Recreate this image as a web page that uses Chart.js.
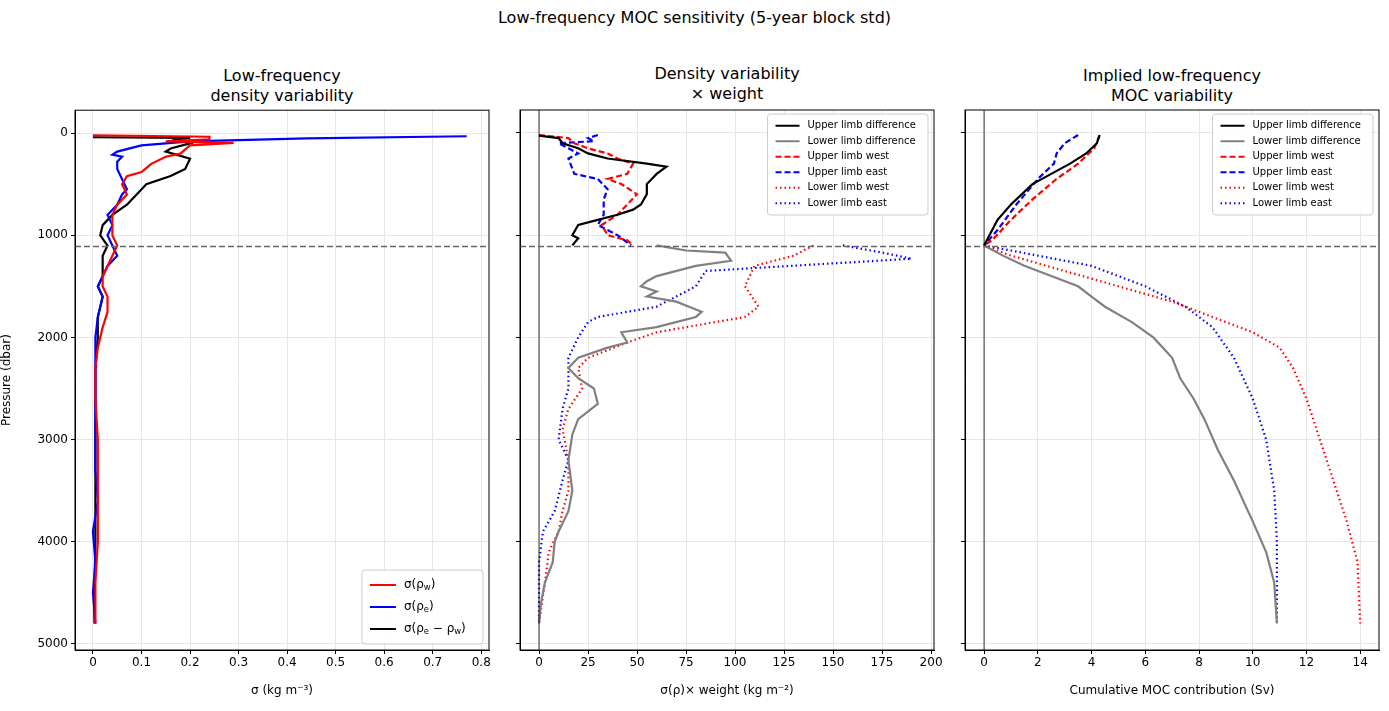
<!DOCTYPE html>
<html><head><meta charset="utf-8">
<script src="https://cdn.jsdelivr.net/npm/chart.js@4"></script>
<style>
body{margin:0;width:1389px;height:711px;background:#fff;font-family:"DejaVu Sans",sans-serif;position:relative;overflow:hidden}
canvas{position:absolute}
.t{position:absolute;text-align:center;font-size:16px;line-height:20px;color:#000}
</style></head><body>
<div class="t" style="left:0;width:1389px;top:8px">Low-frequency MOC sensitivity (5-year block std)</div>
<div class="t" style="left:75px;width:414px;top:66px">Low-frequency<br>density variability</div>
<div class="t" style="left:520px;width:414px;top:64px">Density variability<br>× weight</div>
<div class="t" style="left:965px;width:414px;top:66px">Implied low-frequency<br>MOC variability</div>
<canvas id="c1" style="left:0;top:100px;width:500px;height:602px" width="500" height="602"></canvas>
<canvas id="c2" style="left:490px;top:100px;width:455px;height:602px" width="455" height="602"></canvas>
<canvas id="c3" style="left:935px;top:100px;width:455px;height:602px" width="455" height="602"></canvas>
<script>
// panel 1: density std profiles
const pRhoW = [20,35,60,80,95,120,200,230,300,380,420,500,600,700,800,900,1000,1100,1200,1300,1400,1500,1600,1750,1900,2100,2300,2600,3000,3500,4000,4400,4800];
const sigRhoW = [0,0.24,0.24,0.15,0.29,0.2,0.18,0.15,0.12,0.1,0.07,0.06,0.07,0.05,0.04,0.04,0.04,0.05,0.04,0.03,0.02,0.02,0.03,0.03,0.02,0.01,0.005,0.005,0.01,0.01,0.01,0.005,0.005];
const pRhoE = [30,50,80,120,180,210,230,280,350,450,550,600,700,800,900,1000,1100,1200,1300,1400,1500,1600,1800,2000,2300,2800,3300,3600,3900,4200,4500,4800];
const sigRhoE = [0.77,0.44,0.2,0.1,0.05,0.04,0.06,0.05,0.05,0.06,0.07,0.06,0.05,0.03,0.04,0.03,0.04,0.05,0.03,0.02,0.01,0.02,0.01,0.005,0.005,0.005,0.005,0.01,0,0.005,0,0.005];
const pDiff = [40,45,60,100,150,180,250,350,420,500,600,700,800,900,1000,1100,1200,1400,1500,1600,1800,2000,2300,3000,3500,4000,4500,4800];
const sigDiff = [0,0.2,0.17,0.2,0.16,0.15,0.2,0.19,0.16,0.11,0.09,0.07,0.04,0.02,0.015,0.03,0.02,0.02,0.01,0.02,0.01,0.01,0.005,0.005,0.005,0.005,0.003,0.003];

// panel 2: weighted variability
const pUpDiff = [25,50,100,150,200,250,300,330,400,500,600,700,750,800,850,900,1000,1030,1100];
const wUpDiff = [0,10,12,20,25,35,55,65,60,55,55,52,48,40,30,20,17,20,17];
const pUpWest = [20,50,100,150,200,250,300,400,450,500,600,700,800,900,1000,1050,1100];
const wUpWest = [0,15,18,25,35,40,48,45,35,42,50,45,40,32,35,45,48];
const pUpEast = [20,50,80,100,150,200,250,400,450,550,650,800,900,1000,1100];
const wUpEast = [30,25,28,10,15,20,15,18,30,35,33,33,30,40,47];
const pLoDiff = [1100,1150,1170,1250,1300,1400,1450,1500,1550,1600,1650,1750,1800,1900,1950,2050,2100,2200,2300,2400,2500,2650,2800,2950,3200,3500,3700,3900,4000,4200,4400,4600,4800];
const wLoDiff = [60,75,95,98,80,60,55,52,60,55,70,83,80,60,42,45,35,20,15,20,28,30,20,17,15,17,15,10,8,7,3,1,0];
const pLoWest = [1100,1200,1300,1500,1700,1800,1850,1950,2050,2200,2300,2500,2700,2900,3200,3500,3700,3900,4100,4400,4800];
const wLoWest = [140,130,110,105,112,105,90,60,45,25,20,22,15,12,15,15,12,10,5,3,0];
const pLoEast = [1100,1170,1230,1350,1500,1700,1800,1850,2000,2200,2500,2700,3000,3200,3400,3700,3900,4200,4800];
const wLoEast = [155,175,190,85,80,60,30,25,20,15,15,12,10,15,12,8,2,0,0];

// panel 3: cumulative MOC contribution
const pCumUpDiff = [20,100,200,300,400,500,700,850,1000,1100];
const cUpDiff = [4.3,4.2,3.8,3.2,2.5,1.8,1,0.5,0.2,0];
const pCumUpWest = [20,150,300,450,650,850,1050,1100];
const cUpWest = [4.3,4.1,3.5,2.7,1.8,1,0.3,0];
const pCumUpEast = [20,100,200,300,450,700,950,1100];
const cUpEast = [3.5,3,2.7,2.6,2,1.2,0.5,0];
const pCumLoDiff = [1100,1200,1300,1400,1500,1600,1700,1850,2000,2200,2400,2600,2800,3100,3400,3800,4100,4400,4800];
const cLoDiff = [0,0.7,1.5,2.5,3.5,4,4.5,5.5,6.3,7,7.3,7.8,8.2,8.7,9.3,10,10.5,10.8,10.9];
const pCumLoWest = [1100,1200,1350,1500,1650,1800,1950,2100,2300,2600,3000,3400,3800,4200,4800];
const cLoWest = [0,1,3,5,7,8.5,10,11,11.5,12,12.5,13,13.5,13.9,14];
const pCumLoEast = [1100,1200,1300,1500,1700,1900,2200,2600,3000,3500,4000,4800];
const cLoEast = [0,2,4,6,7.5,8.5,9.3,10,10.5,10.8,10.9,10.9];

const limbBoundary = 1110;

const pts = (xs, ps) => xs.map((x, i) => ({x: x, y: ps[i]}));
const ds = (label, xs, ps, color, dash) => ({
    label: label, data: pts(xs, ps), borderColor: color, backgroundColor: color,
    borderDash: dash || [], borderWidth: 2.2, showLine: true, pointRadius: 0, tension: 0
});
const DASH = [6, 3], DOT = [1.5, 3];

// draws frame, limb boundary, zero line and legend inside the plot
const decor = {
    id: "decor",
    afterDatasetsDraw(chart, args, opt) {
        const c = chart.ctx, a = chart.chartArea, sx = chart.scales.x, sy = chart.scales.y;
        c.save();
        c.beginPath(); c.rect(a.left, a.top, a.width, a.height); c.clip();
        if (opt.zero) {
            c.strokeStyle = "#000"; c.lineWidth = 0.8; c.setLineDash([]);
            c.beginPath(); c.moveTo(sx.getPixelForValue(0), a.top); c.lineTo(sx.getPixelForValue(0), a.bottom); c.stroke();
        }
        const yb = sy.getPixelForValue(limbBoundary);
        c.strokeStyle = "#666"; c.lineWidth = 1.5; c.setLineDash([6, 3]);
        c.beginPath(); c.moveTo(a.left, yb); c.lineTo(a.right, yb); c.stroke();
        c.restore();
        c.save();
        c.strokeStyle = "#000"; c.lineWidth = 1; c.strokeRect(a.left, a.top, a.width, a.height);
        // legend
        const L = opt.legend, n = chart.data.datasets.length;
        const fs = L.font, rowH = L.rowH;
        c.font = fs + "px 'DejaVu Sans'";
        let tw = 0;
        chart.data.datasets.forEach(d => { tw = Math.max(tw, c.measureText(d.label.replace(/_/g, "")).width); });
        const w = 12 + L.line + 8 + tw + 8, h = n * rowH + 8;
        const x0 = L.right ? a.right - 6 - w : a.left + 6;
        const y0 = L.bottom ? a.bottom - 6 - h : a.top + 4;
        c.fillStyle = "rgba(255,255,255,0.85)"; c.strokeStyle = "#ccc";
        c.beginPath(); c.roundRect(x0, y0, w, h, 3); c.fill(); c.stroke();
        chart.data.datasets.forEach((d, i) => {
            const yy = y0 + 4 + rowH * (i + 0.5);
            c.strokeStyle = d.borderColor; c.lineWidth = 2; c.setLineDash(d.borderDash);
            c.beginPath(); c.moveTo(x0 + 8, yy); c.lineTo(x0 + 8 + L.line, yy); c.stroke();
            c.fillStyle = "#000"; c.textBaseline = "middle";
            let tx = x0 + 8 + L.line + 8;
            d.label.split(/(_[a-z])/).forEach(s => {
                if (s.startsWith("_")) {
                    c.font = (fs * 0.7) + "px 'DejaVu Sans'";
                    c.fillText(s.slice(1), tx, yy + 3); tx += c.measureText(s.slice(1)).width;
                    c.font = fs + "px 'DejaVu Sans'";
                } else { c.fillText(s, tx, yy); tx += c.measureText(s).width; }
            });
        });
        c.restore();
    }
};

function panel(id, datasets, xmin, xmax, step, xtitle, showY, zero, legend, yw) {
    new Chart(document.getElementById(id), {
        type: "scatter",
        data: {datasets: datasets},
        plugins: [decor],
        options: {
            responsive: false, animation: false, devicePixelRatio: 1,
            layout: {padding: {top: 10, right: 11, left: 0, bottom: 0}},
            plugins: {legend: {display: false}, tooltip: {enabled: false}, decor: {zero: zero, legend: legend}},
            scales: {
                x: {
                    type: "linear", min: xmin, max: xmax,
                    afterBuildTicks: ax => { const t = []; for (let v = 0; v <= xmax + 1e-9; v += step) t.push({value: +v.toFixed(3)}); ax.ticks = t; },
                    afterFit: ax => { ax.height = 52; },
                    ticks: {color: "#000", font: {size: 12, family: "DejaVu Sans"}, maxRotation: 0, padding: 2, callback: v => String(v)},
                    grid: {color: "#e6e6e6", tickLength: 4, tickColor: "#000"},
                    border: {color: "#000"},
                    title: {display: true, text: xtitle, color: "#000", font: {size: 12, family: "DejaVu Sans"}, padding: {top: 4}}
                },
                y: {
                    type: "linear", reverse: true, min: -225, max: 5059,
                    afterBuildTicks: ax => { ax.ticks = [0, 1000, 2000, 3000, 4000, 5000].map(v => ({value: v})); },
                    afterFit: ax => { ax.width = yw; },
                    ticks: {display: showY, color: "#000", font: {size: 12, family: "DejaVu Sans"}, padding: 3, callback: v => String(v)},
                    grid: {color: "#e6e6e6", tickLength: 4, tickColor: "#000"},
                    border: {color: "#000"},
                    title: {display: showY, text: "Pressure (dbar)", color: "#000", font: {size: 12, family: "DejaVu Sans"}, padding: {top: 0, bottom: 0}}
                }
            }
        }
    });
}

panel("c1", [
    ds("σ(ρ_w)", sigRhoW, pRhoW, "#ff0000"),
    ds("σ(ρ_e)", sigRhoE, pRhoE, "#0000ff"),
    ds("σ(ρ_e − ρ_w)", sigDiff, pDiff, "#000000")
], -0.037, 0.816, 0.1, "σ (kg m⁻³)", true, false, {right: true, bottom: true, font: 12, rowH: 22, line: 26}, 75);

panel("c2", [
    ds("Upper limb difference", wUpDiff, pUpDiff, "#000000"),
    ds("Lower limb difference", wLoDiff, pLoDiff, "#808080"),
    ds("Upper limb west", wUpWest, pUpWest, "#ff0000", DASH),
    ds("Upper limb east", wUpEast, pUpEast, "#0000ff", DASH),
    ds("Lower limb west", wLoWest, pLoWest, "#ff0000", DOT),
    ds("Lower limb east", wLoEast, pLoEast, "#0000ff", DOT)
], -9.7, 201.5, 25, "σ(ρ)× weight (kg m⁻²)", false, true, {right: true, bottom: false, font: 10, rowH: 15.5, line: 24}, 30);

panel("c3", [
    ds("Upper limb difference", cUpDiff, pCumUpDiff, "#000000"),
    ds("Lower limb difference", cLoDiff, pCumLoDiff, "#808080"),
    ds("Upper limb west", cUpWest, pCumUpWest, "#ff0000", DASH),
    ds("Upper limb east", cUpEast, pCumUpEast, "#0000ff", DASH),
    ds("Lower limb west", cLoWest, pCumLoWest, "#ff0000", DOT),
    ds("Lower limb east", cLoEast, pCumLoEast, "#0000ff", DOT)
], -0.71, 14.7, 2, "Cumulative MOC contribution (Sv)", false, true, {right: true, bottom: false, font: 10, rowH: 15.5, line: 24}, 30);
</script>
</body></html>
